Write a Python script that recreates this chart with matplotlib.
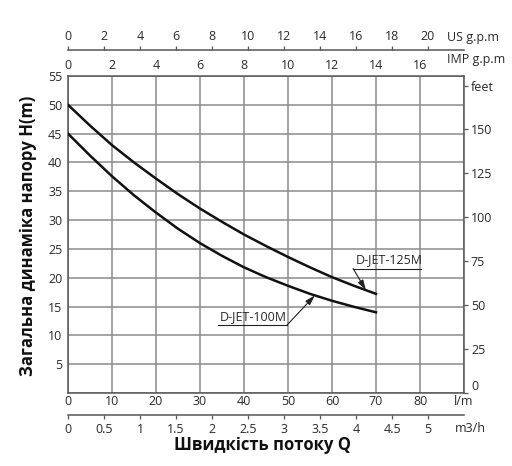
import matplotlib
matplotlib.use("Agg")
import matplotlib.pyplot as plt
import numpy as np

plt.rcParams['font.family'] = ['Open Sans', 'DejaVu Sans']

# ---- data ----
flow_lpm = [0, 5, 10, 15, 20, 25, 30, 35, 40, 45, 50, 55, 60, 65, 70]
head_125m = [50.0, 46.4, 43.0, 40.0, 37.2, 34.5, 32.0, 29.7, 27.5, 25.5, 23.6, 21.8, 20.1, 18.6, 17.2]
head_100m = [45.0, 41.2, 37.6, 34.3, 31.3, 28.5, 26.0, 23.8, 21.8, 20.1, 18.6, 17.2, 16.0, 14.95, 14.0]
series_names = ['D-JET-125M', 'D-JET-100M']

lpm_ticks = [0, 10, 20, 30, 40, 50, 60, 70, 80]
head_ticks = [5, 10, 15, 20, 25, 30, 35, 40, 45, 50, 55]
feet_ticks = [0, 25, 50, 75, 100, 125, 150]
imp_ticks = [0, 2, 4, 6, 8, 10, 12, 14, 16]
us_ticks = [0, 2, 4, 6, 8, 10, 12, 14, 16, 18, 20]
m3h_ticks = [0, 0.5, 1, 1.5, 2, 2.5, 3, 3.5, 4, 4.5, 5]

W, H = 512, 466
fig = plt.figure(figsize=(W / 100, H / 100), dpi=100)


def rect(l, t, r, b):
    return [l / W, 1 - b / H, (r - l) / W, (b - t) / H]


TXT = '#2a2a2a'
GRID = '#8c8c8c'
SP = '#555555'
FS = 9

ax = fig.add_axes(rect(68, 76, 464, 393))
ax.set_xlim(0, 90)
ax.set_ylim(0, 55)
ax.set_xticks(lpm_ticks + [90])
ax.set_xticklabels([str(v) for v in lpm_ticks] + ['l/m'])
ax.set_yticks([0] + head_ticks)
ax.set_yticklabels([''] + [str(v) for v in head_ticks])
ax.tick_params(axis='both', length=0, labelsize=FS, colors=TXT)
ax.tick_params(axis='x', pad=1.5)
ax.tick_params(axis='y', pad=4)
ax.grid(True, color=GRID, lw=1.1)
for s in ax.spines.values():
    s.set_color(SP)
    s.set_linewidth(1.1)

ax.plot(flow_lpm, head_125m, color='#111111', lw=1.8, zorder=3, solid_joinstyle='round')
ax.plot(flow_lpm, head_100m, color='#111111', lw=1.8, zorder=3, solid_joinstyle='round')

# annotations
ap = dict(arrowstyle='-|>,head_length=0.6,head_width=0.18', lw=0.8, color='#222222',
          shrinkA=0, shrinkB=0)
x1 = 67.7
ax.annotate('', xy=(x1, np.interp(x1, flow_lpm, head_125m)), xytext=(64.8, 21.6), arrowprops=ap)
ax.plot([64.8, 80.2], [21.6, 21.6], color='#222222', lw=0.8)
ax.text(65.3, 22.0, series_names[0], fontsize=FS, color=TXT, ha='left', va='bottom')

x2 = 56.1
ax.annotate('', xy=(x2, np.interp(x2, flow_lpm, head_100m)), xytext=(49.8, 11.8), arrowprops=ap)
ax.plot([34.1, 49.8], [11.8, 11.8], color='#222222', lw=0.8)
ax.text(34.4, 12.2, series_names[1], fontsize=FS, color=TXT, ha='left', va='bottom')

# top IMP labels
axt = ax.twiny()
axt.set_xlim(0, 90)
axt.set_xticks([v * 5 for v in imp_ticks])
axt.set_xticklabels([str(v) for v in imp_ticks])
axt.tick_params(axis='x', length=0, pad=3, labelsize=FS, colors=TXT)
for s in axt.spines.values():
    s.set_visible(False)
fig.text(447 / W, 1 - 60 / H, 'IMP g.p.m', fontsize=FS, color=TXT, ha='left', va='center')

# right feet axis
axr = ax.twinx()
axr.set_ylim(0, 55 * 3.2808)
axr.set_yticks(feet_ticks + [175])
labs = axr.set_yticklabels([str(v) for v in feet_ticks] + ['feet'])
labs[0].set_va('bottom')
axr.tick_params(axis='y', length=3, width=0.9, color=SP, pad=2, labelsize=FS, colors=TXT)
axr.tick_params(axis='y', color=SP)
for s in axr.spines.values():
    s.set_visible(False)

# US g.p.m axis (top)
axu = fig.add_axes(rect(68, 50, 464, 60))
axu.set_xlim(0, 22)
axu.set_ylim(0, 1)
axu.patch.set_visible(False)
for k, s in axu.spines.items():
    s.set_visible(k == 'top')
axu.spines['top'].set_color(SP)
axu.spines['top'].set_linewidth(1.1)
axu.xaxis.set_ticks_position('top')
axu.set_xticks(us_ticks)
axu.set_xticklabels([str(v) for v in us_ticks])
axu.tick_params(axis='x', direction='out', length=3, width=0.9, color=SP, pad=2,
                labelsize=FS, labelcolor=TXT)
axu.set_yticks([])
fig.text(447 / W, 1 - 38 / H, 'US g.p.m', fontsize=FS, color=TXT, ha='left', va='center')

# m3/h axis (bottom)
axm = fig.add_axes(rect(68, 405, 464, 415))
axm.set_xlim(0, 5.5)
axm.set_ylim(0, 1)
axm.patch.set_visible(False)
for k, s in axm.spines.items():
    s.set_visible(k == 'bottom')
axm.spines['bottom'].set_color(SP)
axm.spines['bottom'].set_linewidth(1.1)
axm.set_xticks(m3h_ticks)
axm.set_xticklabels(['%g' % v for v in m3h_ticks])
axm.tick_params(axis='x', direction='out', length=3, width=0.9, color=SP, pad=3,
                labelsize=FS, labelcolor=TXT)
axm.set_yticks([])
fig.text(455 / W, 1 - 429 / H, 'm3/h', fontsize=FS, color=TXT, ha='left', va='center')

# titles
fig.text(28 / W, 1 - 236 / H, 'Загальна динаміка напору H(m)', rotation=90,
         fontsize=12, fontweight='bold', color='#111111', ha='center', va='center')
fig.text(263 / W, 1 - 445 / H, 'Швидкість потоку Q', fontsize=12,
         fontweight='bold', color='#111111', ha='center', va='center')

fig.savefig('out.png', dpi=100)
